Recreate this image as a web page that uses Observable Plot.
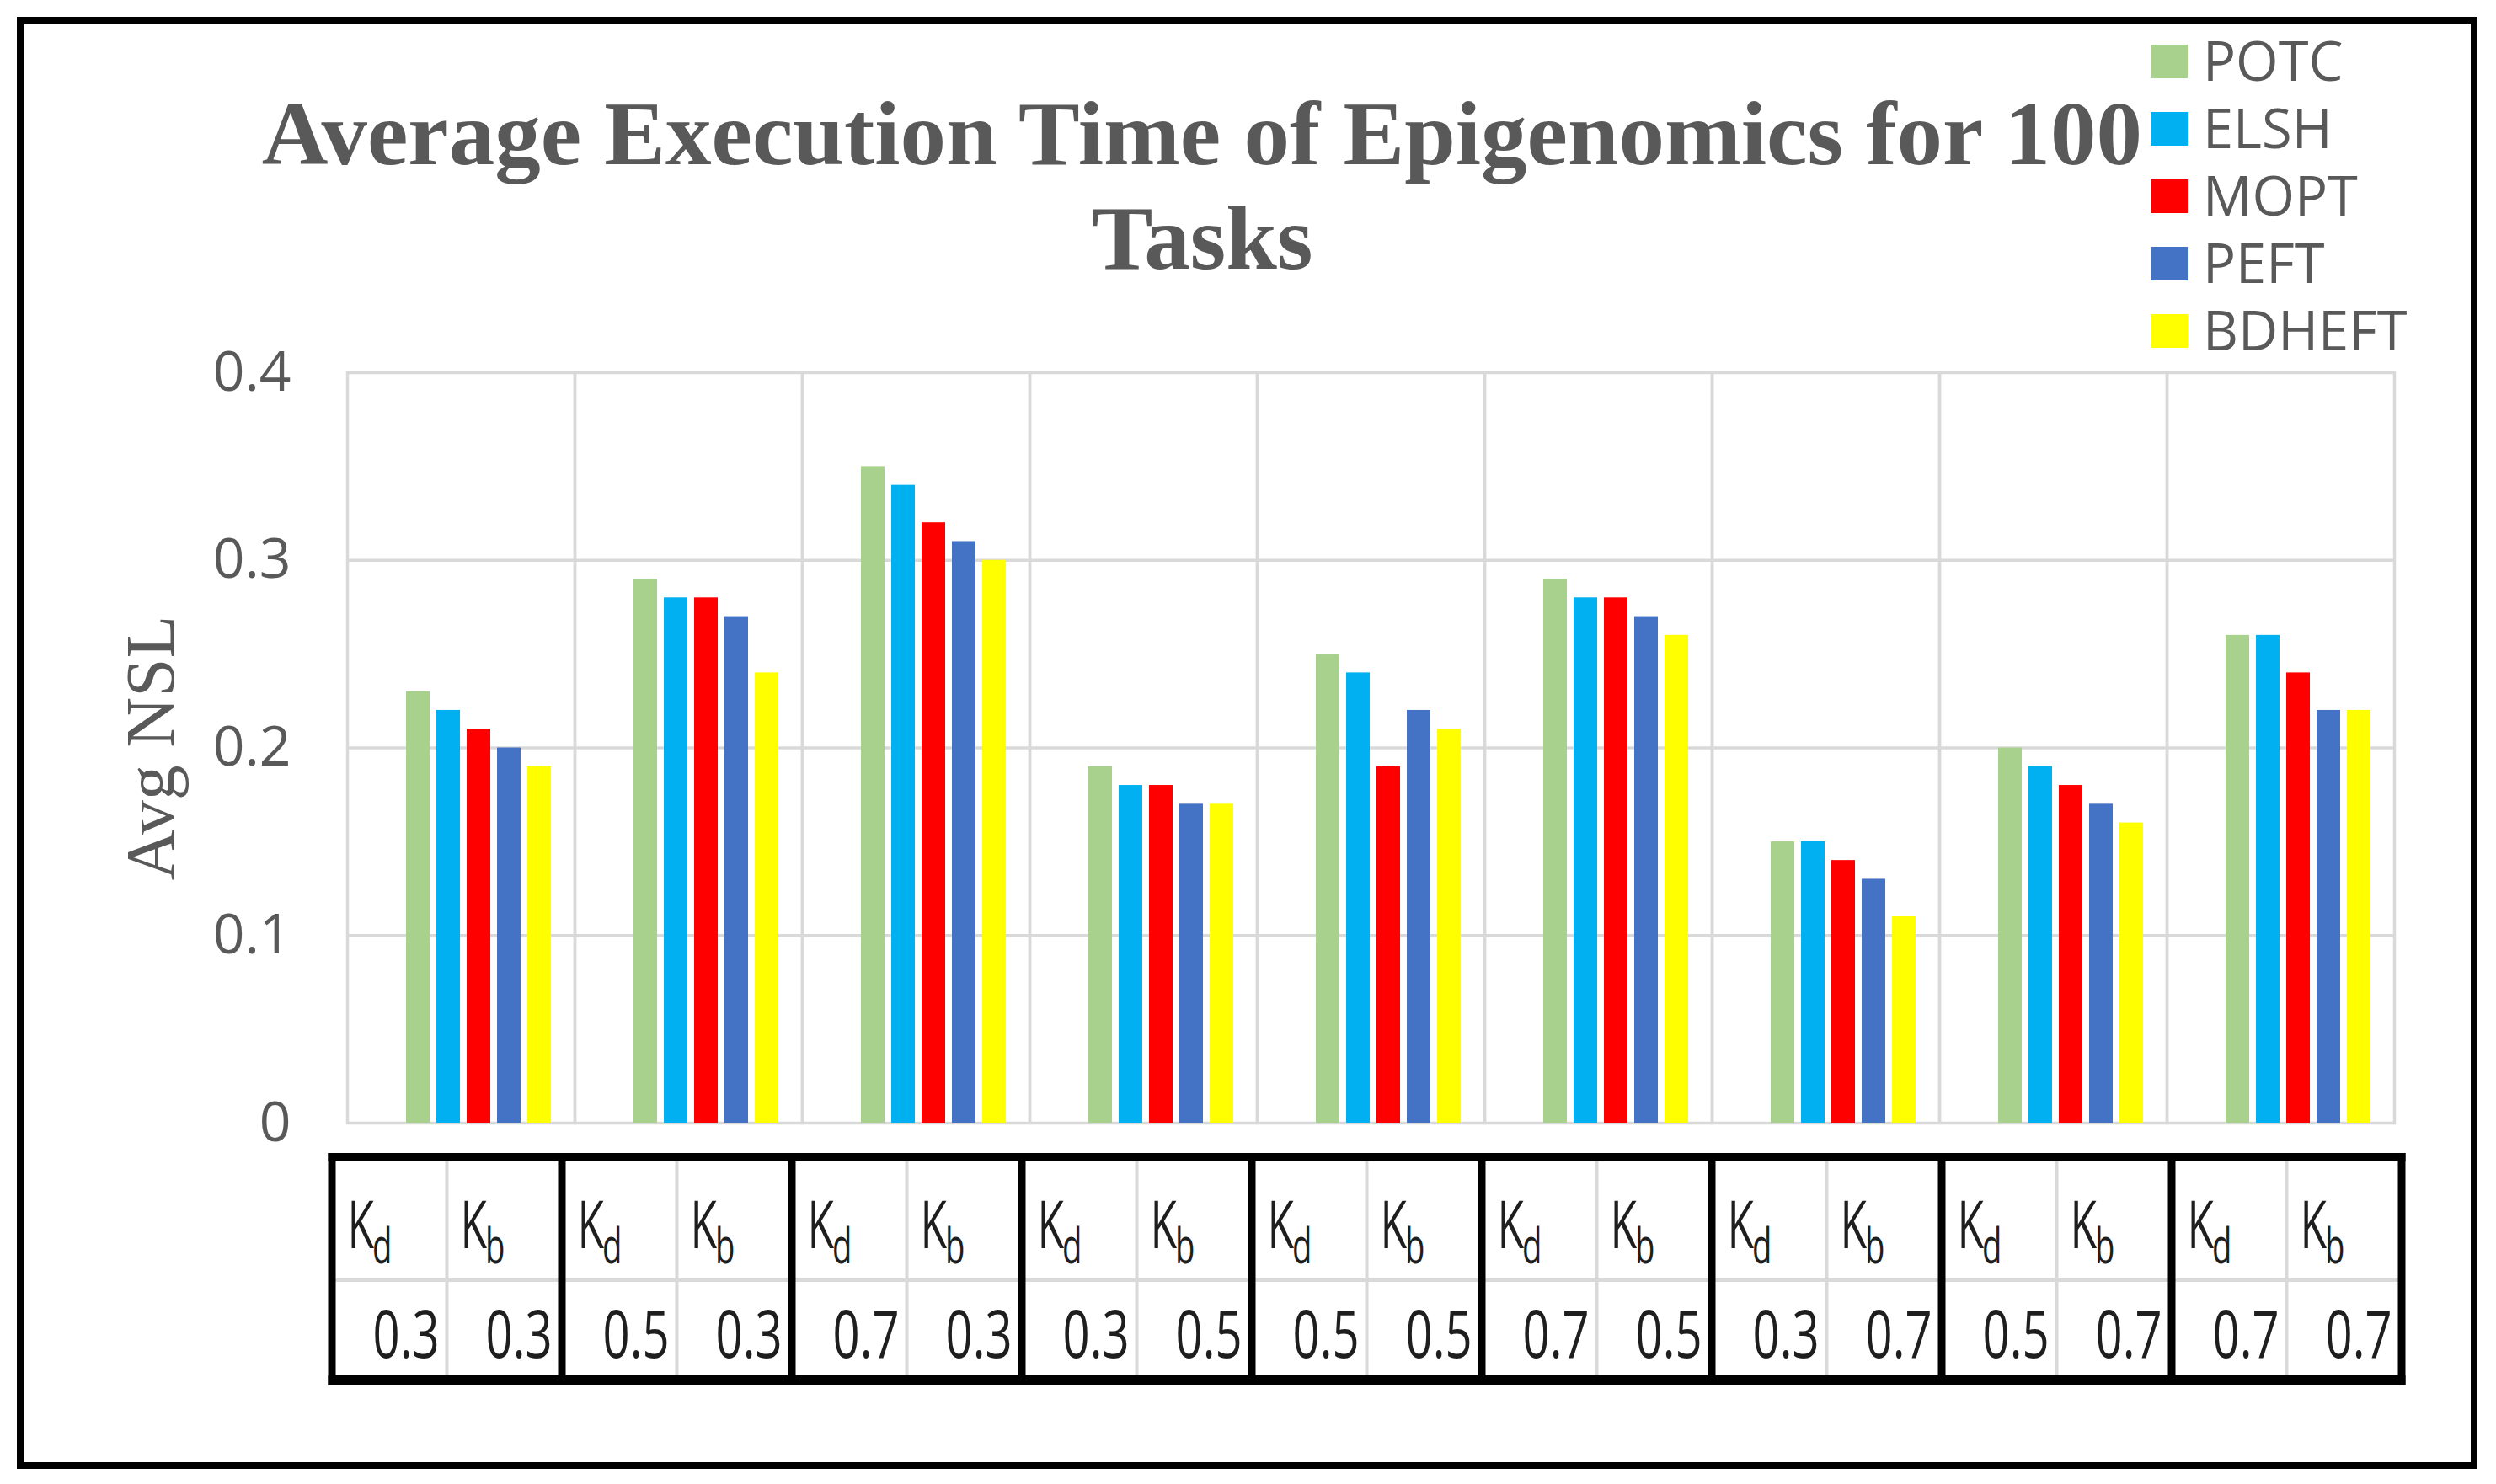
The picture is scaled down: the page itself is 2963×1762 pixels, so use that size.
<!DOCTYPE html>
<html>
<head>
<meta charset="utf-8">
<script src="https://cdn.jsdelivr.net/npm/d3@7"></script>
<script src="https://cdn.jsdelivr.net/npm/@observablehq/plot@0.6"></script>
<style>
html, body { margin: 0; padding: 0; background: #fff; }
#wrap { position: relative; width: 2963px; height: 1762px; overflow: hidden; background: #fff; }
#chart svg { display: block; }
#frame { position: absolute; left: 20px; top: 20px; width: 2921px; height: 1724px; border: 8px solid #000; box-sizing: border-box; pointer-events: none; }
#title { position: absolute; left: 307px; width: 2240px; top: 97px; text-align: center; white-space: nowrap;
  font-family: "Liberation Serif", "Times New Roman", serif; font-weight: bold; font-size: 109px;
  line-height: 124px; color: #595959; }
#legend { position: absolute; left: 2553px; top: 0; }
.item { position: absolute; left: 0; height: 80px; white-space: nowrap; font-family: "Open Sans", sans-serif;
  font-size: 65px; line-height: 80px; color: #595959; }
.sw { position: absolute; left: 0; top: 22px; width: 44px; height: 40px; }
.lab { position: absolute; left: 62px; top: 0; }
</style>
</head>
<body>
<div id="wrap">
  <div id="chart"></div>
  <div id="title">Average Execution Time of Epigenomics for 100<br>Tasks</div>
  <div id="legend"></div>
  <div id="frame"></div>
</div>
<script>
// ---- data ----
const kdValues = [0.3, 0.5, 0.7, 0.3, 0.5, 0.7, 0.3, 0.5, 0.7];
const kbValues = [0.3, 0.3, 0.3, 0.5, 0.5, 0.5, 0.7, 0.7, 0.7];
const seriesNames = ["POTC", "ELSH", "MOPT", "PEFT", "BDHEFT"];
const seriesColors = ["#A9D18E", "#00B0F0", "#FF0000", "#4472C4", "#FFFF00"];
const potc   = [0.23, 0.29, 0.35, 0.19, 0.25, 0.29, 0.15, 0.20, 0.26];
const elsh   = [0.22, 0.28, 0.34, 0.18, 0.24, 0.28, 0.15, 0.19, 0.26];
const mopt   = [0.21, 0.28, 0.32, 0.18, 0.19, 0.28, 0.14, 0.18, 0.24];
const peft   = [0.20, 0.27, 0.31, 0.17, 0.22, 0.27, 0.13, 0.17, 0.22];
const bdheft = [0.19, 0.24, 0.30, 0.17, 0.21, 0.26, 0.11, 0.16, 0.22];
const yTicks = [0, 0.1, 0.2, 0.3, 0.4];
const yTickLabels = ["0", "0.1", "0.2", "0.3", "0.4"];
const yLabel = "Avg NSL";
const kdLabel = ["K", "d"];
const kbLabel = ["K", "b"];

// ---- build table ----
const groupKeys = kdValues.map((kd, i) => `Kd=${kd}, Kb=${kbValues[i]}`);
const seriesValues = [potc, elsh, mopt, peft, bdheft];
const data = [];
groupKeys.forEach((g, i) => {
  seriesNames.forEach((s, j) => data.push({group: g, series: s, value: seriesValues[j][i]}));
});

const gray = "#595959";
const grid = "#d9d9d9";

const chart = Plot.plot({
  width: 2963,
  height: 1762,
  marginTop: 442,
  marginBottom: 429,
  marginLeft: 410,
  marginRight: 120,
  style: {background: "transparent", overflow: "visible"},
  fx: {domain: groupKeys, padding: 0, axis: null},
  x: {domain: seriesNames, axis: null, paddingInner: 0.222, paddingOuter: 1.361, align: 0.714},
  y: {domain: [0, 0.4]},
  color: {domain: seriesNames, range: seriesColors},
  marks: [
    Plot.gridY([0.1, 0.2, 0.3], {stroke: grid, strokeOpacity: 1, strokeWidth: 3.5}),
    Plot.frame({stroke: grid, strokeWidth: 3.5}),
    Plot.barY(data, {fx: "group", x: "series", y: "value", fill: "series"}),
    Plot.axisY(yTicks, {
      tickSize: 0, tickPadding: 67,
      tickFormat: d => yTickLabels[yTicks.indexOf(d)],
      fontSize: 66, fontFamily: "Open Sans", color: gray, label: null
    }),
    Plot.text([{g: groupKeys[0]}], {
      fx: "g", text: () => yLabel, frameAnchor: "left", rotate: -90,
      lineAnchor: "bottom", textAnchor: "middle", dx: -207,
      fontSize: 83, fontFamily: "Liberation Serif", fill: gray
    })
  ]
});
document.getElementById("chart").appendChild(chart);

// ---- parameter table under the bars, aligned on the fx scale ----
let fxStart, bw;
try {
  const fxs = chart.scale("fx");
  fxStart = fxs.apply(groupKeys[0]);
  bw = fxs.bandwidth;
} catch (e) {
  bw = (2963 - 410 - 120) / groupKeys.length;
  fxStart = 410;
}
const x0 = fxStart - 18;
const x1 = fxStart + bw * groupKeys.length + 9;
const gw = (x1 - x0) / groupKeys.length;
const tTop = 1369, tBot = 1645, topBand = 10, botBand = 12, rowDiv = 1520;
const svg = d3.select(chart);
const tg = svg.append("g").attr("class", "param-table").attr("text-anchor", "start");
tg.append("rect").attr("x", x0).attr("y", tTop).attr("width", x1 - x0).attr("height", tBot - tTop).attr("fill", "#fff");
tg.append("rect").attr("x", x0).attr("y", rowDiv - 2).attr("width", x1 - x0).attr("height", 4).attr("fill", grid);
groupKeys.forEach((g, i) => {
  tg.append("rect").attr("x", x0 + (i + 0.5) * gw - 2).attr("y", tTop + topBand)
    .attr("width", 4).attr("height", tBot - botBand - tTop - topBand).attr("fill", grid);
});
for (let i = 0; i <= groupKeys.length; i++) {
  tg.append("rect").attr("x", x0 + i * gw - 4.5).attr("y", tTop).attr("width", 9).attr("height", tBot - tTop).attr("fill", "#000");
}
tg.append("rect").attr("x", x0 - 4.5).attr("y", tTop).attr("width", x1 - x0 + 9).attr("height", topBand).attr("fill", "#000");
tg.append("rect").attr("x", x0 - 4.5).attr("y", tBot - botBand).attr("width", x1 - x0 + 9).attr("height", botBand).attr("fill", "#000");

const txtColor = "#1e1e1e";
groupKeys.forEach((g, i) => {
  [[kdLabel, kdValues[i]], [kbLabel, kbValues[i]]].forEach(([lab, val], c) => {
    const colLeft = x0 + i * gw + c * gw / 2;
    const innerLeft = colLeft + (c === 0 ? 4.5 : 2);
    const innerRight = colLeft + gw / 2 - (c === 0 ? 2 : 4.5);
    const t = tg.append("text")
      .attr("transform", `translate(${innerLeft + 14},1482) scale(0.66,1)`)
      .attr("text-anchor", "start")
      .attr("font-family", "Open Sans").attr("font-size", 78).attr("fill", txtColor);
    t.append("tspan").text(lab[0]);
    t.append("tspan").attr("font-size", 58).attr("dy", 18).attr("dx", -3).text(lab[1]);
    tg.append("text")
      .attr("transform", `translate(${innerRight - 7},1612) scale(0.72,1)`)
      .attr("text-anchor", "end")
      .attr("font-family", "Open Sans").attr("font-size", 78).attr("fill", txtColor)
      .text(String(val));
  });
});

// ---- legend ----
const legend = document.getElementById("legend");
seriesNames.forEach((s, i) => {
  const item = document.createElement("div");
  item.className = "item";
  item.style.top = (31 + i * 80) + "px";
  const sw = document.createElement("div");
  sw.className = "sw";
  sw.style.background = seriesColors[i];
  const lab = document.createElement("div");
  lab.className = "lab";
  lab.textContent = s;
  item.appendChild(sw);
  item.appendChild(lab);
  legend.appendChild(item);
});
</script>
</body>
</html>
